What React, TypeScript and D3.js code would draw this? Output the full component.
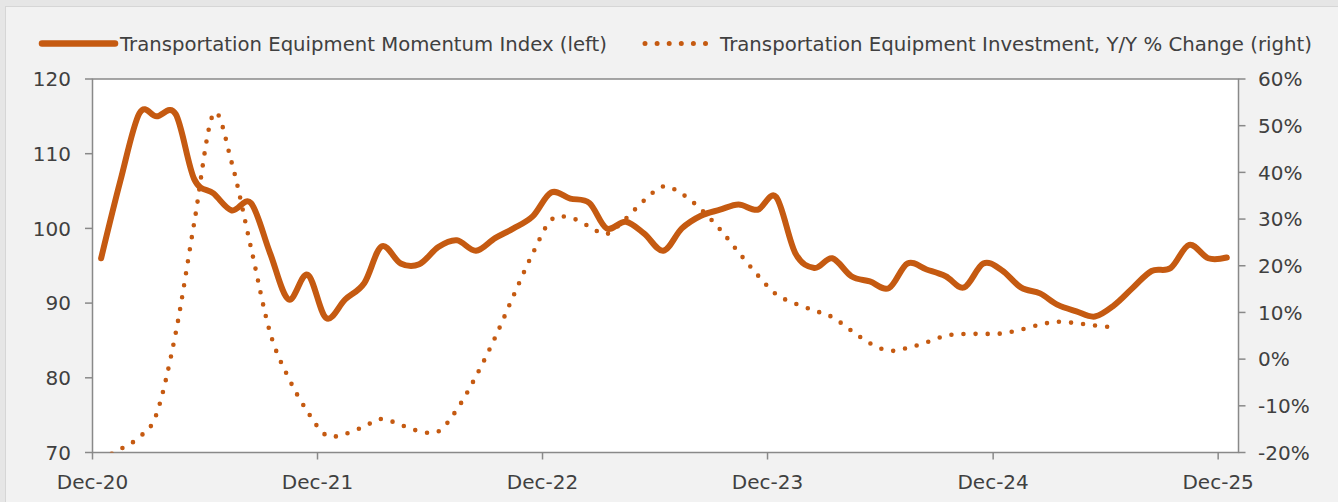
import React from "react";
import * as d3 from "d3";

// ---- Data (monthly, Dec-20 .. Dec-25) ----
const startMonth = new Date(2020, 11, 15);
const momentumIndex: number[] = [
  96.0, 106.3, 115.4, 115.0, 115.3, 106.6, 104.7, 102.4, 103.4, 96.7, 90.5, 93.8,
  88.0, 90.5, 92.7, 97.6, 95.3, 95.2, 97.5, 98.4, 97.0, 98.7, 100.0, 101.6,
  104.8, 104.0, 103.4, 100.0, 100.9, 99.3, 97.0, 100.0, 101.7, 102.5, 103.2, 102.5,
  104.2, 96.7, 94.7, 96.0, 93.6, 92.9, 92.0, 95.3, 94.5, 93.6, 92.1, 95.3,
  94.4, 92.1, 91.3, 89.8, 88.9, 88.2, 89.7, 92.0, 94.3, 94.7, 97.8, 96.0,
  96.1,
];
const investmentYoY: number[] = [
  -21.5, -19.3, -16.7, -11.7, 5.6, 29.2, 52.5, 42.0, 23.9, 5.7, -4.0, -11.3,
  -16.3, -16.0, -14.4, -12.8, -14.1, -15.4, -15.5, -10.8, -3.7, 4.6, 13.6, 22.6,
  29.8, 30.3, 28.4, 26.8, 30.1, 34.0, 37.0, 35.4, 32.1, 27.8, 22.9, 18.0,
  13.9, 11.9, 10.4, 9.0, 6.1, 3.4, 1.8, 2.4, 3.6, 5.0, 5.4, 5.4,
  5.5, 6.3, 7.4, 8.0, 7.7, 7.2, 6.8,
];
const leftTicks = [70, 80, 90, 100, 110, 120];
const rightTicks = [-20, -10, 0, 10, 20, 30, 40, 50, 60];
const xTickDates = [2020, 2021, 2022, 2023, 2024, 2025].map((y) => new Date(y, 11, 1));
const legendLabels = [
  "Transportation Equipment Momentum Index (left)",
  "Transportation Equipment Investment, Y/Y % Change (right)",
];

const W = 1338;
const H = 502;
const plot = { left: 92.5, right: 1238.5, top: 79, bottom: 452.5 };
const ORANGE = "#C55A11";
const AXIS = "#898989";
const TEXT = "#404040";
const FONT = "'DejaVu Sans', Verdana, sans-serif";

export default function App() {
  const monthDate = (i: number) => d3.timeMonth.offset(startMonth, i);
  const x = d3
    .scaleTime()
    .domain([new Date(2020, 11, 1), new Date(2026, 0, 3)])
    .range([plot.left, plot.right]);
  const yL = d3.scaleLinear().domain([70, 120]).range([plot.bottom, plot.top]);
  const yR = d3.scaleLinear().domain([-20, 60]).range([plot.bottom, plot.top]);
  const fmt = d3.timeFormat("%b-%y");

  const lineL = d3
    .line<number>()
    .x((_, i) => x(monthDate(i)))
    .y((d) => yL(d))
    .curve(d3.curveCatmullRom.alpha(0));
  const lineR = d3
    .line<number>()
    .x((_, i) => x(monthDate(i)))
    .y((d) => yR(d))
    .curve(d3.curveCatmullRom.alpha(0));

  return (
    <svg
      width={W}
      height={H}
      style={{ position: "absolute", left: 0, top: 0 }}
      fontFamily={FONT}
    >
      <defs>
        <clipPath id="plotClip">
          <rect
            x={plot.left}
            y={plot.top}
            width={plot.right - plot.left}
            height={plot.bottom - plot.top}
          />
        </clipPath>
      </defs>
      <rect x={0} y={0} width={W} height={H} fill="#E6E6E6" />
      <rect x={5.5} y={6.5} width={W} height={H} fill="#F2F2F2" stroke="#D6D6D6" />

      {/* Legend */}
      <line x1={42} x2={115} y1={43.5} y2={43.5} stroke={ORANGE} strokeWidth={6.5} strokeLinecap="round" />
      <text x={120} y={50.5} fontSize={19.5} fill={TEXT} textLength={487} lengthAdjust="spacingAndGlyphs">
        {legendLabels[0]}
      </text>
      <line
        x1={645}
        x2={706}
        y1={43.5}
        y2={43.5}
        stroke={ORANGE}
        strokeWidth={5}
        strokeLinecap="round"
        strokeDasharray="0 12.1"
      />
      <text x={720} y={50.5} fontSize={19.5} fill={TEXT} textLength={592} lengthAdjust="spacingAndGlyphs">
        {legendLabels[1]}
      </text>

      {/* Plot area */}
      <rect
        x={plot.left}
        y={plot.top}
        width={plot.right - plot.left}
        height={plot.bottom - plot.top}
        fill="#FFFFFF"
        stroke={AXIS}
        strokeWidth={1.5}
      />

      {/* Left axis */}
      {leftTicks.map((t) => (
        <g key={"l" + t}>
          <line x1={plot.left - 7.5} x2={plot.left} y1={yL(t)} y2={yL(t)} stroke={AXIS} strokeWidth={1.5} />
          <text x={71} y={yL(t) + 7.3} fontSize={20} fill={TEXT} textAnchor="end">
            {t}
          </text>
        </g>
      ))}
      {/* Right axis */}
      {rightTicks.map((t) => (
        <g key={"r" + t}>
          <line x1={plot.right} x2={plot.right + 7} y1={yR(t)} y2={yR(t)} stroke={AXIS} strokeWidth={1.5} />
          <text x={1258} y={yR(t) + 7.3} fontSize={20} fill={TEXT} textAnchor="start">
            {t + "%"}
          </text>
        </g>
      ))}
      {/* Bottom axis */}
      {xTickDates.map((d) => (
        <g key={d.toISOString()}>
          <line x1={x(d)} x2={x(d)} y1={plot.bottom} y2={plot.bottom + 7} stroke={AXIS} strokeWidth={1.5} />
          <text x={x(d)} y={489} fontSize={20} fill={TEXT} textAnchor="middle">
            {fmt(d)}
          </text>
        </g>
      ))}

      {/* Series */}
      <g clipPath="url(#plotClip)">
        <path
          d={lineR(investmentYoY) || ""}
          fill="none"
          stroke={ORANGE}
          strokeWidth={4.6}
          strokeLinecap="round"
          strokeDasharray="0 12.1"
        />
        <path
          d={lineL(momentumIndex) || ""}
          fill="none"
          stroke={ORANGE}
          strokeWidth={6}
          strokeLinecap="round"
          strokeLinejoin="round"
        />
      </g>
    </svg>
  );
}
